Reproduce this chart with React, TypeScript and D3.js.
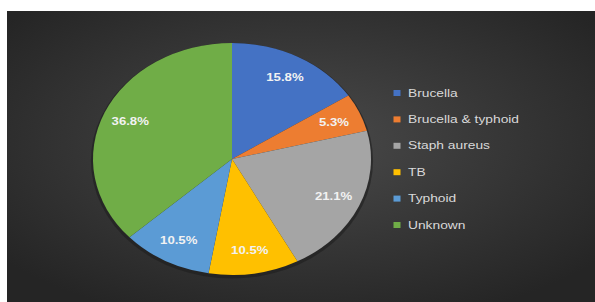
import React from 'react';
import * as d3 from 'd3';

const categories = ['Brucella', 'Brucella & typhoid', 'Staph aureus', 'TB', 'Typhoid', 'Unknown'];
const values = [15.8, 5.3, 21.1, 10.5, 10.5, 36.8];
const colors = ['#4472C4', '#ED7D31', '#A5A5A5', '#FFC000', '#5B9BD5', '#70AD47'];

export default function App()
{
    const width = 595;
    const height = 302;
    const panel = {x: 7, y: 11};
    const cx = 232, cy = 159;
    const rx = 139, ry = 116;
    const r = 100;

    // the source picture is stretched sideways, so text is widened too
    const stretch = rx / ry;

    const pie = d3.pie<number>().sort(null).value(d => d);
    const arcs = pie(values);
    const arc = d3.arc<d3.PieArcDatum<number>>().innerRadius(0).outerRadius(r);
    const labelArc = d3.arc<d3.PieArcDatum<number>>().innerRadius(r * 0.8).outerRadius(r * 0.8);

    const sx = rx / r, sy = ry / r;

    const legendX = 397, legendY = 93, legendStep = 26.4;

    return (
        <svg width={width} height={height} style={{position: 'absolute', left: 0, top: 0}}>
            <defs>
                <radialGradient id="bg" cx="50%" cy="45%" r="65%">
                    <stop offset="0%" stopColor="#4a4a4a"/>
                    <stop offset="100%" stopColor="#252525"/>
                </radialGradient>
            </defs>
            <rect x={0} y={0} width={width} height={height} fill="#ffffff"/>
            <rect x={panel.x} y={panel.y} width={width - panel.x} height={height - panel.y} fill="url(#bg)"/>

            <g transform={`translate(${cx},${cy}) scale(${sx},${sy})`}>
                <ellipse cx={0} cy={1.5} rx={r + 1.5} ry={r + 1.5} fill="#1e1e1e" opacity={0.6}/>
                {arcs.map((a, i) => (
                    <path key={i} d={arc(a) || ''} fill={colors[i]}/>
                ))}
            </g>

            <g fontFamily="'Liberation Sans', Arial, sans-serif" fontWeight="bold" fontSize={11} fill="#f2f2f2">
                {arcs.map((a, i) => {
                    const [lx, ly] = labelArc.centroid(a);
                    return (
                        <text key={i} transform={`translate(${cx + lx * sx},${cy + ly * sy}) scale(${stretch},1)`}
                              textAnchor="middle" dominantBaseline="central">
                            {values[i].toFixed(1) + '%'}
                        </text>
                    );
                })}
            </g>

            <g fontFamily="'Liberation Sans', Arial, sans-serif" fontSize={11.5} fill="#d9d9d9">
                {categories.map((c, i) => (
                    <g key={c} transform={`translate(${legendX},${legendY + i * legendStep})`}>
                        <rect x={-3.5} y={-3} width={7} height={6} fill={colors[i]}/>
                        <text transform={`translate(11,0) scale(${stretch},1)`} dominantBaseline="central">{c}</text>
                    </g>
                ))}
            </g>
        </svg>
    );
}
